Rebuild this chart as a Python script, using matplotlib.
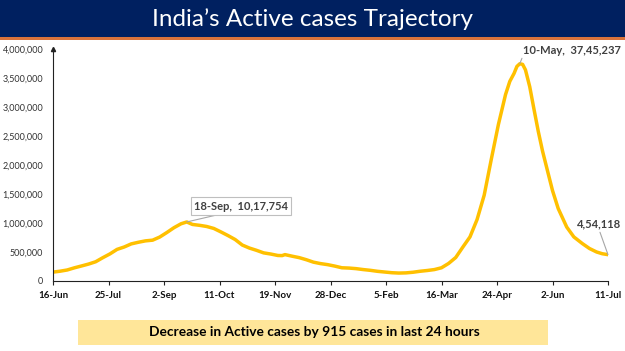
import matplotlib
matplotlib.use("Agg")
import matplotlib.pyplot as plt
from matplotlib.patches import Rectangle
from matplotlib.ticker import FuncFormatter
import pandas as pd

plt.rcParams['font.family'] = ['Lato', 'DejaVu Sans']

dates = [
    "2020-06-16", "2020-06-21", "2020-06-26", "2020-07-01", "2020-07-06", "2020-07-11",
    "2020-07-16", "2020-07-21", "2020-07-26", "2020-07-31", "2020-08-05", "2020-08-10",
    "2020-08-15", "2020-08-20", "2020-08-25", "2020-08-30", "2020-09-04", "2020-09-09",
    "2020-09-14", "2020-09-18", "2020-09-22", "2020-09-27", "2020-10-02", "2020-10-07",
    "2020-10-12", "2020-10-17", "2020-10-22", "2020-10-27", "2020-11-01", "2020-11-06",
    "2020-11-11", "2020-11-16", "2020-11-21", "2020-11-24", "2020-11-26", "2020-12-01",
    "2020-12-06", "2020-12-11", "2020-12-16", "2020-12-21", "2020-12-26", "2020-12-31",
    "2021-01-05", "2021-01-10", "2021-01-15", "2021-01-20", "2021-01-25", "2021-01-30",
    "2021-02-04", "2021-02-09", "2021-02-14", "2021-02-19", "2021-02-24", "2021-03-01",
    "2021-03-06", "2021-03-11", "2021-03-16", "2021-03-21", "2021-03-26", "2021-03-31",
    "2021-04-05", "2021-04-10", "2021-04-15", "2021-04-20", "2021-04-25", "2021-04-30",
    "2021-05-03", "2021-05-06", "2021-05-08", "2021-05-10", "2021-05-12", "2021-05-14",
    "2021-05-17", "2021-05-20", "2021-05-23", "2021-05-26", "2021-05-30", "2021-06-02",
    "2021-06-06", "2021-06-12", "2021-06-17", "2021-06-23", "2021-06-28", "2021-07-03",
    "2021-07-07", "2021-07-11",
]
active_cases = [
    153000, 169000, 190000, 227000, 259000, 292000,
    332000, 402000, 467000, 545000, 586000, 640000,
    668000, 692000, 704000, 758000, 836000, 919000,
    987000, 1017754, 975000, 960000, 940000, 906000,
    846000, 783000, 715000, 620000, 568000, 529000,
    485000, 465000, 440000, 438000, 455000, 428000,
    403000, 367000, 325000, 300000, 282000, 257000,
    228000, 223000, 213000, 197000, 184000, 167000,
    155000, 143000, 137000, 140000, 151000, 168000,
    181000, 197000, 228000, 303000, 405000, 585000,
    760000, 1060000, 1480000, 2100000, 2700000, 3215000,
    3442000, 3580000, 3700000, 3745237, 3735000, 3640000,
    3350000, 2960000, 2580000, 2240000, 1850000, 1560000,
    1250000, 930000, 760000, 645000, 560000, 500000,
    470000, 454118,
]
tick_dates = ["2020-06-16", "2020-07-25", "2020-09-02", "2020-10-11", "2020-11-19",
              "2020-12-28", "2021-02-05", "2021-03-16", "2021-04-24", "2021-06-02",
              "2021-07-11"]
tick_labels = ["16-Jun", "25-Jul", "2-Sep", "11-Oct", "19-Nov", "28-Dec",
               "5-Feb", "16-Mar", "24-Apr", "2-Jun", "11-Jul"]

title = "India\u2019s Active cases Trajectory"
footer = "Decrease in Active cases by 915 cases in last 24 hours"

x = pd.to_datetime(dates)
xt = pd.to_datetime(tick_dates)

W, H = 625, 351
fig = plt.figure(figsize=(W / 100, H / 100), dpi=100)
fig.patch.set_facecolor("white")

# title bar
fig.patches.append(Rectangle((0, (H - 37) / H), 1, 37 / H, transform=fig.transFigure,
                             facecolor="#002060", edgecolor="none", zorder=0))
fig.patches.append(Rectangle((0, (H - 39.5) / H), 1, 2.5 / H, transform=fig.transFigure,
                             facecolor="#D9733B", edgecolor="none", zorder=0))
fig.text(0.5, (H - 19) / H, title, color="white", fontsize=17.5, ha="center", va="center")

# footer box
fig.patches.append(Rectangle((78 / W, (H - 345) / H), (548 - 78) / W, 25 / H,
                             transform=fig.transFigure, facecolor="#FFE699",
                             edgecolor="none", zorder=0))
fig.text(314 / W, (H - 332.5) / H, footer, color="black", fontsize=9.9,
         fontweight="bold", ha="center", va="center")

ax = fig.add_axes([53 / W, (H - 281) / H, (608 - 53) / W, (281 - 49) / H])
ax.plot(x, active_cases, color="#FFC000", lw=2.5, solid_capstyle="round",
        solid_joinstyle="round")
ax.set_xlim(xt[0], xt[-1])
ax.set_ylim(0, 4000000)
ax.set_yticks(range(0, 4000001, 500000))
ax.yaxis.set_major_formatter(FuncFormatter(lambda v, p: f"{int(v):,}"))
ax.set_xticks(xt)
ax.set_xticklabels(tick_labels, fontweight="bold")
for s in ["top", "right"]:
    ax.spines[s].set_visible(False)
for s in ["left", "bottom"]:
    ax.spines[s].set_color("#222222")
    ax.spines[s].set_linewidth(0.8)
ax.tick_params(axis="y", length=0, pad=7, labelsize=6.5, labelcolor="#333333")
ax.tick_params(axis="x", length=3, width=0.8, direction="out", pad=4,
               labelsize=7.0, labelcolor="#111111", color="#222222")
ax.plot(0, 1.0, marker="^", ms=3, color="#222222", transform=ax.transAxes, clip_on=False)

# annotations
i1 = dates.index("2020-09-18")
ax.annotate("18-Sep,  10,17,754", xy=(x[i1], active_cases[i1]),
            xytext=(241 / W, (H - 206) / H), textcoords="figure fraction",
            ha="center", va="center", fontsize=8.0, fontweight="bold", color="#404040",
            bbox=dict(boxstyle="square,pad=0.28", fc="white", ec="#BFBFBF", lw=0.8),
            arrowprops=dict(arrowstyle="-", color="#A6A6A6", lw=0.8,
                            shrinkA=0, shrinkB=0, relpos=(0.4, 0.0)))
i2 = dates.index("2021-05-10")
ax.annotate("10-May,  37,45,237", xy=(x[i2], active_cases[i2]),
            xytext=(572 / W, (H - 50) / H), textcoords="figure fraction",
            ha="center", va="center", fontsize=8.0, fontweight="bold", color="#404040",
            arrowprops=dict(arrowstyle="-", color="#A6A6A6", lw=0.8,
                            shrinkA=0, shrinkB=0, relpos=(0.0, 0.0)))
i3 = len(dates) - 1
ax.annotate("4,54,118", xy=(x[i3], active_cases[i3]),
            xytext=(599 / W, (H - 224) / H), textcoords="figure fraction",
            ha="center", va="center", fontsize=8.0, fontweight="bold", color="#404040",
            arrowprops=dict(arrowstyle="-", color="#A6A6A6", lw=0.8,
                            shrinkA=0, shrinkB=0, relpos=(0.5, 0.0)))

fig.savefig("out.png", dpi=100)
